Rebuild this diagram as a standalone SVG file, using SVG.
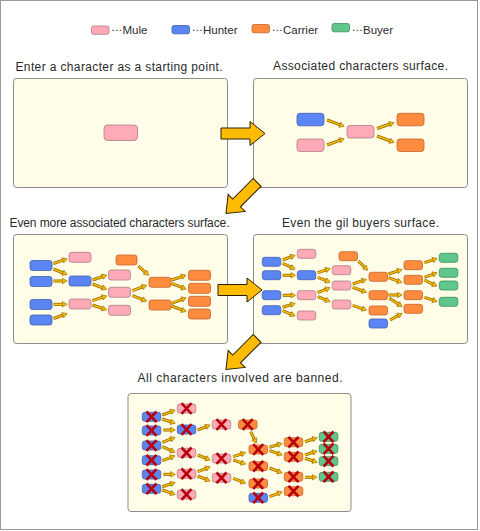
<svg xmlns="http://www.w3.org/2000/svg" xmlns:xlink="http://www.w3.org/1999/xlink" width="480" height="531" viewBox="0 0 480 531">
<style>
.t{font-family:"Liberation Sans",Arial,sans-serif;font-size:12px;fill:#2a2a2a;text-anchor:middle}
.lg{font-family:"Liberation Sans",Arial,sans-serif;font-size:11.5px;fill:#2a2a2a}
.panel{fill:#fffde8;stroke:#8c8c8c;stroke-width:1}
.mule{fill:#ffaab6;stroke:#a88088;stroke-width:0.8}
.hunter{fill:#5b85f2;stroke:#3e5fb4;stroke-width:0.8}
.carrier{fill:#ff8c3e;stroke:#c0662a;stroke-width:0.8}
.buyer{fill:#5fc78b;stroke:#3b8d5e;stroke-width:0.8}
.big{fill:#ffbb00;stroke:#2a2000;stroke-width:1}
.x{stroke:#b8000c;stroke-width:2.6;fill:none}
</style>
<defs>
<marker id="ah" markerUnits="userSpaceOnUse" markerWidth="8" markerHeight="8" refX="0.5" refY="3" orient="auto" overflow="visible">
<path d="M0,0.3 L4.6,3 L0,5.7 z" fill="#ffbb00" stroke="#8a6800" stroke-width="0.6"/>
</marker>
<path id="bigarrow" d="M-44,-5.5 L-15,-5.5 L-15,-12 L0,0 L-15,12 L-15,5.5 L-44,5.5 z"/>
<g id="xm"><path d="M-5,-5.3 L5,5.3 M5,-5.3 L-5,5.3"/></g>
<g id="ap">
<path d="M327,120 L340.3,124.9"/>
<path d="M327,145 L340.3,140.1"/>
<path d="M377,128.5 L390.2,124"/>
<path d="M377,136 L390.3,141"/>
<path d="M53.5,263.5 L63.3,260.2"/>
<path d="M53.5,269 L63.3,273"/>
<path d="M53.5,281 L63,281"/>
<path d="M53.5,304.3 L63,304.3"/>
<path d="M53.5,318.5 L63.3,315"/>
<path d="M92.5,280 L102.8,276.5"/>
<path d="M92.5,284 L102.8,287.8"/>
<path d="M92.5,300.7 L102.8,297.2"/>
<path d="M92.5,305 L102.8,308.5"/>
<path d="M138.3,266 L145.6,272.6"/>
<path d="M132.5,290.7 L142.8,286.8"/>
<path d="M132.5,295.7 L142.8,299.6"/>
<path d="M171.5,280 L182.2,276.5"/>
<path d="M171.5,283.3 L182.3,287.6"/>
<path d="M171.5,303.3 L182.3,299.3"/>
<path d="M171.5,306 L182.3,310.1"/>
<path d="M282.7,260 L291.3,256.7"/>
<path d="M282.7,263.3 L291.4,267.4"/>
<path d="M282.7,275.3 L291.5,275.3"/>
<path d="M282.7,295.3 L291.5,295.3"/>
<path d="M282.7,307.3 L291.3,304.6"/>
<path d="M282.7,310.7 L291.3,314.3"/>
<path d="M317.7,272.7 L326.3,269.8"/>
<path d="M317.7,277.3 L326.3,280.7"/>
<path d="M317.7,292.7 L326.3,289.2"/>
<path d="M317.7,296.7 L326.3,300.1"/>
<path d="M358.3,261 L364.8,267.4"/>
<path d="M352.7,284 L362.7,280.7"/>
<path d="M352.7,287.3 L362.7,291"/>
<path d="M352.7,305.3 L362.7,308.8"/>
<path d="M388.5,274 L398.1,270.8"/>
<path d="M388.5,277.7 L398.1,281.2"/>
<path d="M388.5,295 L398,295"/>
<path d="M389.3,298.3 L398.7,304.3"/>
<path d="M390,320 L398.5,315.4"/>
<path d="M424.5,262.7 L433.3,259.8"/>
<path d="M424.5,277.3 L433.3,274.2"/>
<path d="M424.5,280 L433.3,284.3"/>
<path d="M424.5,297.3 L433.3,300.2"/>
<path d="M162.3,415 L171.3,411.6"/>
<path d="M162.3,419 L171.3,422"/>
<path d="M163.3,430 L171.2,430"/>
<path d="M162.3,442.3 L171.3,438.9"/>
<path d="M162.3,446.7 L171.3,450.6"/>
<path d="M162.3,460.7 L171.3,457.3"/>
<path d="M163.3,474.3 L171.2,474.3"/>
<path d="M162.3,486.7 L171.3,483.8"/>
<path d="M162.3,490 L171.3,493.2"/>
<path d="M197.7,430 L206.3,426.6"/>
<path d="M197.7,455 L206.3,458.4"/>
<path d="M197.7,471.7 L206.3,468.3"/>
<path d="M197.7,476 L206.3,479.4"/>
<path d="M250.7,431.7 L254.5,439.5"/>
<path d="M233.3,456.7 L241.8,453.8"/>
<path d="M233.3,460 L241.8,462.8"/>
<path d="M233.3,478.3 L241.8,481.7"/>
<path d="M269.5,447.3 L278.3,444.6"/>
<path d="M269.5,450.7 L278.3,453.6"/>
<path d="M269.5,468 L278.3,471.4"/>
<path d="M269.5,496.7 L278.3,493.3"/>
<path d="M305,441.7 L313.3,439"/>
<path d="M305,455 L313.3,452.3"/>
<path d="M305,458.3 L313.3,461"/>
<path d="M305,477.3 L313,477.3"/>
</g>
</defs>

<rect x="0.5" y="0.5" width="477" height="529" fill="#ffffff" stroke="#9a9a9a" stroke-width="1"/>

<g id="legend">
<rect class="mule" x="91.5" y="26" width="17.5" height="8.3" rx="2"/>
<text class="lg" x="111" y="33.5"><tspan baseline-shift="3">…</tspan>Mule</text>
<rect class="hunter" x="172" y="25.5" width="17.5" height="8.3" rx="2"/>
<text class="lg" x="191.5" y="33.5"><tspan baseline-shift="3">…</tspan>Hunter</text>
<rect class="carrier" x="252" y="24.5" width="17.5" height="8.3" rx="2"/>
<text class="lg" x="271.5" y="33.5"><tspan baseline-shift="3">…</tspan>Carrier</text>
<rect class="buyer" x="332" y="23.5" width="17.5" height="8.3" rx="2"/>
<text class="lg" x="351.5" y="33.5"><tspan baseline-shift="3">…</tspan>Buyer</text>
</g>

<g id="panel1">
<text class="t" x="119" y="70.5" textLength="207" lengthAdjust="spacing">Enter a character as a starting point.</text>
<rect class="panel" x="13.5" y="78.5" width="214" height="109" rx="3"/>
</g>
<g id="p1-start"><rect class="mule" x="104" y="125" width="33.5" height="15.5" rx="3.5"/></g>

<g id="panel2">
<text class="t" x="360.5" y="70" textLength="175" lengthAdjust="spacing">Associated characters surface.</text>
<rect class="panel" x="253.5" y="78.5" width="214" height="109" rx="3"/>
</g>
<g id="p2-h1"><rect class="hunter" x="297" y="113.3" width="27" height="12.5" rx="3"/></g>
<g id="p2-m1"><rect class="mule" x="297" y="139" width="27" height="12.5" rx="3"/></g>
<g id="p2-m2"><rect class="mule" x="347" y="125.5" width="27" height="12.5" rx="3"/></g>
<g id="p2-c1"><rect class="carrier" x="397" y="113.3" width="27" height="12.5" rx="3"/></g>
<g id="p2-c2"><rect class="carrier" x="397" y="139" width="27" height="12.5" rx="3"/></g>

<g id="panel3">
<text class="t" x="119.5" y="226.5" textLength="220" lengthAdjust="spacing">Even more associated characters surface.</text>
<rect class="panel" x="13.5" y="234.5" width="214" height="109" rx="3"/>
</g>
<g id="p3-h1"><rect class="hunter" x="30" y="260.5" width="22" height="10" rx="2.5"/></g>
<g id="p3-h2"><rect class="hunter" x="30" y="276.5" width="22" height="10" rx="2.5"/></g>
<g id="p3-h3"><rect class="hunter" x="30" y="299.5" width="22" height="10" rx="2.5"/></g>
<g id="p3-h4"><rect class="hunter" x="30" y="315" width="22" height="10" rx="2.5"/></g>
<g id="p3-m1"><rect class="mule" x="69" y="252.3" width="22" height="10" rx="2.5"/></g>
<g id="p3-h5"><rect class="hunter" x="69" y="276" width="22" height="10" rx="2.5"/></g>
<g id="p3-m2"><rect class="mule" x="69" y="299" width="22" height="10" rx="2.5"/></g>
<g id="p3-c1"><rect class="carrier" x="116" y="255" width="21" height="10" rx="2.5"/></g>
<g id="p3-m3"><rect class="mule" x="108.5" y="270" width="22" height="10" rx="2.5"/></g>
<g id="p3-m4"><rect class="mule" x="108.5" y="287.3" width="22" height="10" rx="2.5"/></g>
<g id="p3-m5"><rect class="mule" x="108.5" y="305.3" width="22" height="10" rx="2.5"/></g>
<g id="p3-c2"><rect class="carrier" x="149" y="277.3" width="22" height="10" rx="2.5"/></g>
<g id="p3-c3"><rect class="carrier" x="149" y="300" width="22" height="10" rx="2.5"/></g>
<g id="p3-c4"><rect class="carrier" x="188.5" y="270.3" width="22" height="10" rx="2.5"/></g>
<g id="p3-c5"><rect class="carrier" x="188.5" y="283.3" width="22" height="10" rx="2.5"/></g>
<g id="p3-c6"><rect class="carrier" x="188.5" y="296.3" width="22" height="10" rx="2.5"/></g>
<g id="p3-c7"><rect class="carrier" x="188.5" y="309" width="22" height="10" rx="2.5"/></g>

<g id="panel4">
<text class="t" x="360.5" y="226.5" textLength="157" lengthAdjust="spacing">Even the gil buyers surface.</text>
<rect class="panel" x="253.5" y="234.5" width="214" height="109" rx="3"/>
</g>
<g id="p4-h1"><rect class="hunter" x="262.3" y="257.3" width="18.5" height="9" rx="2.5"/></g>
<g id="p4-h2"><rect class="hunter" x="262.3" y="270.7" width="18.5" height="9" rx="2.5"/></g>
<g id="p4-h3"><rect class="hunter" x="262.3" y="290.7" width="18.5" height="9" rx="2.5"/></g>
<g id="p4-h4"><rect class="hunter" x="262.3" y="305.7" width="18.5" height="9" rx="2.5"/></g>
<g id="p4-m1"><rect class="mule" x="297.3" y="249.3" width="18.5" height="9" rx="2.5"/></g>
<g id="p4-h5"><rect class="hunter" x="297.3" y="270.7" width="18.5" height="9" rx="2.5"/></g>
<g id="p4-m2"><rect class="mule" x="297.3" y="290.7" width="18.5" height="9" rx="2.5"/></g>
<g id="p4-m3"><rect class="mule" x="297.3" y="311" width="18.5" height="9" rx="2.5"/></g>
<g id="p4-c1"><rect class="carrier" x="339" y="251.7" width="18.5" height="9" rx="2.5"/></g>
<g id="p4-m4"><rect class="mule" x="332.3" y="265.7" width="18.5" height="9" rx="2.5"/></g>
<g id="p4-m5"><rect class="mule" x="332.3" y="281" width="18.5" height="9" rx="2.5"/></g>
<g id="p4-m6"><rect class="mule" x="332.3" y="300" width="18.5" height="9" rx="2.5"/></g>
<g id="p4-c2"><rect class="carrier" x="369" y="272.3" width="18.5" height="9" rx="2.5"/></g>
<g id="p4-c3"><rect class="carrier" x="369" y="290.7" width="18.5" height="9" rx="2.5"/></g>
<g id="p4-c4"><rect class="carrier" x="369" y="306" width="18.5" height="9" rx="2.5"/></g>
<g id="p4-h6"><rect class="hunter" x="369" y="319" width="18.5" height="9" rx="2.5"/></g>
<g id="p4-c5"><rect class="carrier" x="404" y="260.7" width="18.5" height="9" rx="2.5"/></g>
<g id="p4-c6"><rect class="carrier" x="404" y="275.3" width="18.5" height="9" rx="2.5"/></g>
<g id="p4-c7"><rect class="carrier" x="404" y="290.7" width="18.5" height="9" rx="2.5"/></g>
<g id="p4-c8"><rect class="carrier" x="404" y="304.3" width="18.5" height="9" rx="2.5"/></g>
<g id="p4-b1"><rect class="buyer" x="439.3" y="253.3" width="18.5" height="9" rx="2.5"/></g>
<g id="p4-b2"><rect class="buyer" x="439.3" y="268.3" width="18.5" height="9" rx="2.5"/></g>
<g id="p4-b3"><rect class="buyer" x="439.3" y="281" width="18.5" height="9" rx="2.5"/></g>
<g id="p4-b4"><rect class="buyer" x="439.3" y="297.3" width="18.5" height="9" rx="2.5"/></g>

<g id="panel5">
<text class="t" x="240" y="382" textLength="205" lengthAdjust="spacing">All characters involved are banned.</text>
<rect class="panel" x="128" y="393.5" width="223" height="118" rx="3"/>
</g>
<g id="p5-h1"><rect class="hunter" x="142.3" y="412.3" width="18.5" height="9" rx="2.5"/><use xlink:href="#xm" class="x" x="151.5" y="416.8"/></g>
<g id="p5-h2"><rect class="hunter" x="142.3" y="426" width="18.5" height="9" rx="2.5"/><use xlink:href="#xm" class="x" x="151.5" y="430.5"/></g>
<g id="p5-h3"><rect class="hunter" x="142.3" y="441" width="18.5" height="9" rx="2.5"/><use xlink:href="#xm" class="x" x="151.5" y="445.5"/></g>
<g id="p5-h4"><rect class="hunter" x="142.3" y="455.7" width="18.5" height="9" rx="2.5"/><use xlink:href="#xm" class="x" x="151.5" y="460.2"/></g>
<g id="p5-h5"><rect class="hunter" x="142.3" y="470" width="18.5" height="9" rx="2.5"/><use xlink:href="#xm" class="x" x="151.5" y="474.5"/></g>
<g id="p5-h6"><rect class="hunter" x="142.3" y="484.3" width="18.5" height="9" rx="2.5"/><use xlink:href="#xm" class="x" x="151.5" y="488.8"/></g>
<g id="p5-m1"><rect class="mule" x="177.3" y="404" width="18.5" height="9" rx="2.5"/><use xlink:href="#xm" class="x" x="186.5" y="408.5"/></g>
<g id="p5-h7"><rect class="hunter" x="177.3" y="425" width="18.5" height="9" rx="2.5"/><use xlink:href="#xm" class="x" x="186.5" y="429.5"/></g>
<g id="p5-m2"><rect class="mule" x="177.3" y="448.3" width="18.5" height="9" rx="2.5"/><use xlink:href="#xm" class="x" x="186.5" y="452.8"/></g>
<g id="p5-m3"><rect class="mule" x="177.3" y="469.3" width="18.5" height="9" rx="2.5"/><use xlink:href="#xm" class="x" x="186.5" y="473.8"/></g>
<g id="p5-m4"><rect class="mule" x="177.3" y="490" width="18.5" height="9" rx="2.5"/><use xlink:href="#xm" class="x" x="186.5" y="494.5"/></g>
<g id="p5-m5"><rect class="mule" x="212.3" y="420" width="18.5" height="9" rx="2.5"/><use xlink:href="#xm" class="x" x="221.5" y="424.5"/></g>
<g id="p5-m6"><rect class="mule" x="212.3" y="454" width="18.5" height="9" rx="2.5"/><use xlink:href="#xm" class="x" x="221.5" y="458.5"/></g>
<g id="p5-m7"><rect class="mule" x="212.3" y="473.3" width="18.5" height="9" rx="2.5"/><use xlink:href="#xm" class="x" x="221.5" y="477.8"/></g>
<g id="p5-c1"><rect class="carrier" x="238.5" y="420" width="18.5" height="9" rx="2.5"/><use xlink:href="#xm" class="x" x="247.7" y="424.5"/></g>
<g id="p5-c2"><rect class="carrier" x="249" y="445" width="18.5" height="9" rx="2.5"/><use xlink:href="#xm" class="x" x="258.2" y="449.5"/></g>
<g id="p5-c3"><rect class="carrier" x="249" y="461.7" width="18.5" height="9" rx="2.5"/><use xlink:href="#xm" class="x" x="258.2" y="466.2"/></g>
<g id="p5-c4"><rect class="carrier" x="249" y="479" width="18.5" height="9" rx="2.5"/><use xlink:href="#xm" class="x" x="258.2" y="483.5"/></g>
<g id="p5-h8"><rect class="hunter" x="249" y="493.3" width="18.5" height="9" rx="2.5"/><use xlink:href="#xm" class="x" x="258.2" y="497.8"/></g>
<g id="p5-c5"><rect class="carrier" x="284.3" y="437.7" width="18.5" height="9" rx="2.5"/><use xlink:href="#xm" class="x" x="293.5" y="442.2"/></g>
<g id="p5-c6"><rect class="carrier" x="284.3" y="452.3" width="18.5" height="9" rx="2.5"/><use xlink:href="#xm" class="x" x="293.5" y="456.8"/></g>
<g id="p5-c7"><rect class="carrier" x="284.3" y="472.3" width="18.5" height="9" rx="2.5"/><use xlink:href="#xm" class="x" x="293.5" y="476.8"/></g>
<g id="p5-c8"><rect class="carrier" x="284.3" y="486.7" width="18.5" height="9" rx="2.5"/><use xlink:href="#xm" class="x" x="293.5" y="491.2"/></g>
<g id="p5-b1"><rect class="buyer" x="319.3" y="432.3" width="18.5" height="9" rx="2.5"/><use xlink:href="#xm" class="x" x="328.5" y="436.8"/></g>
<g id="p5-b2"><rect class="buyer" x="319.3" y="444.3" width="18.5" height="9" rx="2.5"/><use xlink:href="#xm" class="x" x="328.5" y="448.8"/></g>
<g id="p5-b3"><rect class="buyer" x="319.3" y="456.7" width="18.5" height="9" rx="2.5"/><use xlink:href="#xm" class="x" x="328.5" y="461.2"/></g>
<g id="p5-b4"><rect class="buyer" x="319.3" y="472.3" width="18.5" height="9" rx="2.5"/><use xlink:href="#xm" class="x" x="328.5" y="476.8"/></g>

<g id="connectors" fill="none">
<use xlink:href="#ap" stroke="#8a6800" stroke-width="3"/>
<use xlink:href="#ap" stroke="#ffbb00" stroke-width="1.5" marker-end="url(#ah)"/>
<use xlink:href="#bigarrow" class="big" transform="translate(265,133.5)"/>
<use xlink:href="#bigarrow" class="big" transform="translate(226,213.5) rotate(135)"/>
<use xlink:href="#bigarrow" class="big" transform="translate(262,290)"/>
<use xlink:href="#bigarrow" class="big" transform="translate(226,369.5) rotate(135)"/>
</g>
</svg>
